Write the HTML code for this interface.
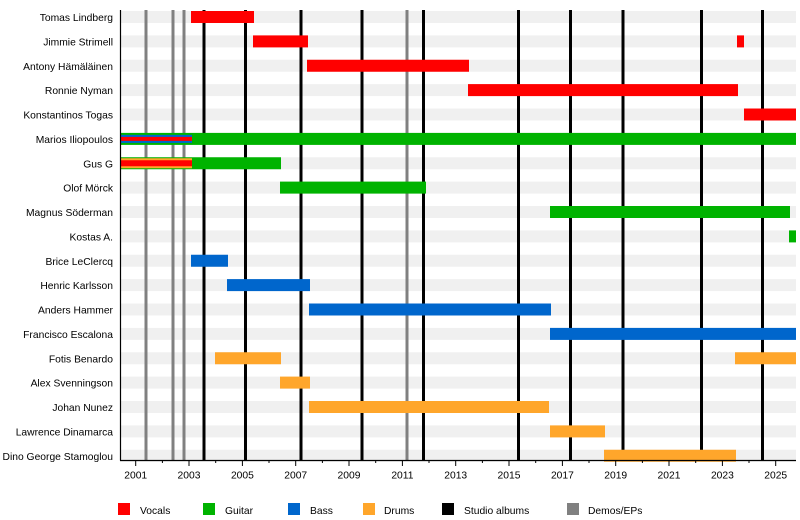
<!DOCTYPE html>
<html><head><meta charset="utf-8"><style>
html,body{margin:0;padding:0;background:#fff;}
svg{display:block;}
text{font-family:"Liberation Sans",Arial,sans-serif;font-size:10.3px;fill:#000;}
</style></head><body>
<svg width="800" height="520" viewBox="0 0 800 520" xmlns="http://www.w3.org/2000/svg">
<!-- background stripes -->
<g fill="#f0f0f0">
<rect x="120" y="11" width="676" height="12"/>
<rect x="120" y="35.4" width="676" height="12"/>
<rect x="120" y="59.75" width="676" height="12"/>
<rect x="120" y="84.1" width="676" height="12"/>
<rect x="120" y="108.5" width="676" height="12"/>
<rect x="120" y="132.9" width="676" height="12"/>
<rect x="120" y="157.25" width="676" height="12"/>
<rect x="120" y="181.6" width="676" height="12"/>
<rect x="120" y="206" width="676" height="12"/>
<rect x="120" y="230.4" width="676" height="12"/>
<rect x="120" y="254.75" width="676" height="12"/>
<rect x="120" y="279.1" width="676" height="12"/>
<rect x="120" y="303.5" width="676" height="12"/>
<rect x="120" y="327.9" width="676" height="12"/>
<rect x="120" y="352.25" width="676" height="12"/>
<rect x="120" y="376.6" width="676" height="12"/>
<rect x="120" y="401" width="676" height="12"/>
<rect x="120" y="425.4" width="676" height="12"/>
<rect x="120" y="449.75" width="676" height="12"/>
</g>
<!-- event lines -->
<g stroke="#808080" stroke-width="3">
<line x1="146" y1="10" x2="146" y2="460"/>
<line x1="173" y1="10" x2="173" y2="460"/>
<line x1="184" y1="10" x2="184" y2="460"/>
<line x1="407" y1="10" x2="407" y2="460"/>
</g>
<g stroke="#000" stroke-width="3">
<line x1="204" y1="10" x2="204" y2="460"/>
<line x1="245.5" y1="10" x2="245.5" y2="460"/>
<line x1="301" y1="10" x2="301" y2="460"/>
<line x1="362" y1="10" x2="362" y2="460"/>
<line x1="423.5" y1="10" x2="423.5" y2="460"/>
<line x1="518.5" y1="10" x2="518.5" y2="460"/>
<line x1="570.5" y1="10" x2="570.5" y2="460"/>
<line x1="623" y1="10" x2="623" y2="460"/>
<line x1="701.5" y1="10" x2="701.5" y2="460"/>
<line x1="762.5" y1="10" x2="762.5" y2="460"/>
</g>
<!-- vocals -->
<g fill="#ff0000">
<rect x="191" y="11" width="63" height="12"/>
<rect x="253" y="35.4" width="55" height="12"/>
<rect x="737" y="35.4" width="7" height="12"/>
<rect x="307" y="59.75" width="162" height="12"/>
<rect x="468" y="84.1" width="270" height="12"/>
<rect x="744" y="108.5" width="52" height="12"/>
</g>
<!-- guitar -->
<g fill="#00b300">
<rect x="120" y="132.9" width="676" height="12"/>
<rect x="120" y="157.25" width="161" height="12"/>
<rect x="280" y="181.6" width="146" height="12"/>
<rect x="550" y="206" width="240" height="12"/>
<rect x="789" y="230.4" width="7" height="12"/>
</g>
<rect x="120" y="134.9" width="72" height="8" fill="#0066cc"/>
<rect x="120" y="136.9" width="72" height="4" fill="#ff0000"/>
<rect x="120" y="158.25" width="72" height="10" fill="#ffa62b"/>
<rect x="120" y="160.25" width="72" height="6" fill="#ff0000"/>
<!-- bass -->
<g fill="#0066cc">
<rect x="191" y="254.75" width="37" height="12"/>
<rect x="227" y="279.1" width="83" height="12"/>
<rect x="309" y="303.5" width="242" height="12"/>
<rect x="550" y="327.9" width="246" height="12"/>
</g>
<!-- drums -->
<g fill="#ffa62b">
<rect x="215" y="352.25" width="66" height="12"/>
<rect x="735" y="352.25" width="61" height="12"/>
<rect x="280" y="376.6" width="30" height="12"/>
<rect x="309" y="401" width="240" height="12"/>
<rect x="550" y="425.4" width="55" height="12"/>
<rect x="604" y="449.75" width="132" height="12"/>
</g>
<!-- axes -->
<line x1="120.5" y1="10" x2="120.5" y2="460.5" stroke="#000" stroke-width="1.2"/>
<line x1="120" y1="460.5" x2="796" y2="460.5" stroke="#000" stroke-width="1.2"/>
<g stroke="#000" stroke-width="1">
<line x1="135.7" y1="460" x2="135.7" y2="466"/>
<line x1="162.4" y1="460" x2="162.4" y2="463"/>
<line x1="189" y1="460" x2="189" y2="466"/>
<line x1="215.7" y1="460" x2="215.7" y2="463"/>
<line x1="242.4" y1="460" x2="242.4" y2="466"/>
<line x1="269" y1="460" x2="269" y2="463"/>
<line x1="295.7" y1="460" x2="295.7" y2="466"/>
<line x1="322.4" y1="460" x2="322.4" y2="463"/>
<line x1="349" y1="460" x2="349" y2="466"/>
<line x1="375.7" y1="460" x2="375.7" y2="463"/>
<line x1="402.4" y1="460" x2="402.4" y2="466"/>
<line x1="429" y1="460" x2="429" y2="463"/>
<line x1="455.7" y1="460" x2="455.7" y2="466"/>
<line x1="482.4" y1="460" x2="482.4" y2="463"/>
<line x1="509" y1="460" x2="509" y2="466"/>
<line x1="535.7" y1="460" x2="535.7" y2="463"/>
<line x1="562.4" y1="460" x2="562.4" y2="466"/>
<line x1="589" y1="460" x2="589" y2="463"/>
<line x1="615.7" y1="460" x2="615.7" y2="466"/>
<line x1="642.4" y1="460" x2="642.4" y2="463"/>
<line x1="669" y1="460" x2="669" y2="466"/>
<line x1="695.7" y1="460" x2="695.7" y2="463"/>
<line x1="722.4" y1="460" x2="722.4" y2="466"/>
<line x1="749" y1="460" x2="749" y2="463"/>
<line x1="775.7" y1="460" x2="775.7" y2="466"/>
</g>
<g text-anchor="middle">
<text x="135.7" y="478.5">2001</text>
<text x="189" y="478.5">2003</text>
<text x="242.4" y="478.5">2005</text>
<text x="295.7" y="478.5">2007</text>
<text x="349" y="478.5">2009</text>
<text x="402.4" y="478.5">2011</text>
<text x="455.7" y="478.5">2013</text>
<text x="509" y="478.5">2015</text>
<text x="562.4" y="478.5">2017</text>
<text x="615.7" y="478.5">2019</text>
<text x="669" y="478.5">2021</text>
<text x="722.4" y="478.5">2023</text>
<text x="775.7" y="478.5">2025</text>
</g>
<!-- names -->
<g text-anchor="end">
<text x="113" y="21">Tomas Lindberg</text>
<text x="113" y="45.4">Jimmie Strimell</text>
<text x="113" y="69.75">Antony Hämäläinen</text>
<text x="113" y="94.1">Ronnie Nyman</text>
<text x="113" y="118.5">Konstantinos Togas</text>
<text x="113" y="142.9">Marios Iliopoulos</text>
<text x="113" y="167.25">Gus G</text>
<text x="113" y="191.6">Olof Mörck</text>
<text x="113" y="216">Magnus Söderman</text>
<text x="113" y="240.4">Kostas A.</text>
<text x="113" y="264.75">Brice LeClercq</text>
<text x="113" y="289.1">Henric Karlsson</text>
<text x="113" y="313.5">Anders Hammer</text>
<text x="113" y="337.9">Francisco Escalona</text>
<text x="113" y="362.25">Fotis Benardo</text>
<text x="113" y="386.6">Alex Svenningson</text>
<text x="113" y="411">Johan Nunez</text>
<text x="113" y="435.4">Lawrence Dinamarca</text>
<text x="113" y="459.75">Dino George Stamoglou</text>
</g>
<!-- legend -->
<rect x="118" y="503" width="12" height="12" fill="#ff0000"/>
<text x="140" y="514">Vocals</text>
<rect x="203" y="503" width="12" height="12" fill="#00b300"/>
<text x="225" y="514">Guitar</text>
<rect x="288" y="503" width="12" height="12" fill="#0066cc"/>
<text x="310" y="514">Bass</text>
<rect x="363" y="503" width="12" height="12" fill="#ffa62b"/>
<text x="384" y="514">Drums</text>
<rect x="442" y="503" width="12" height="12" fill="#000"/>
<text x="464" y="514">Studio albums</text>
<rect x="567" y="503" width="12" height="12" fill="#808080"/>
<text x="588" y="514">Demos/EPs</text>
</svg>
</body></html>
